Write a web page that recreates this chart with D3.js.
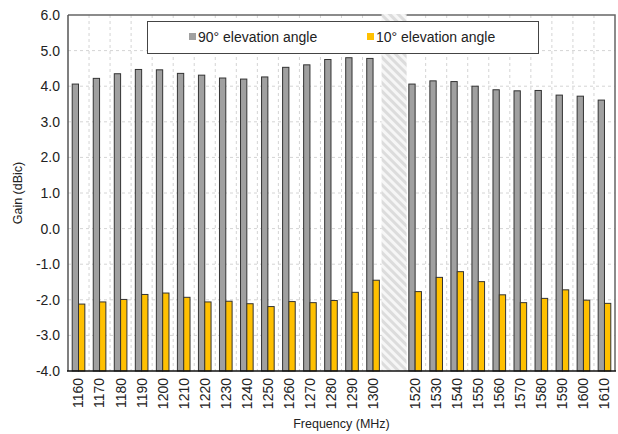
<!DOCTYPE html>
<html>
<head>
<meta charset="utf-8">
<style>
  body { margin: 0; background: #fff; }
  text { font-family: "Liberation Sans", Arial, sans-serif; fill: #222; }
</style>
</head>
<body>
<script src="https://d3js.org/d3.v7.min.js"></script>
<script>
// Frequencies (MHz); "gap" is the hatched empty slot between the two bands
var freqs = ["1160","1170","1180","1190","1200","1210","1220","1230","1240","1250",
             "1260","1270","1280","1290","1300","gap",
             "1520","1530","1540","1550","1560","1570","1580","1590","1600","1610"];

// Gain (dBic) at 90° elevation
var gain90 = [4.06,4.22,4.35,4.47,4.46,4.36,4.31,4.23,4.20,4.26,
              4.53,4.60,4.75,4.80,4.78,null,
              4.06,4.15,4.13,4.00,3.90,3.87,3.88,3.75,3.72,3.61];

// Gain (dBic) at 10° elevation
var gain10 = [-2.12,-2.06,-1.99,-1.85,-1.81,-1.93,-2.06,-2.04,-2.11,-2.19,
              -2.05,-2.08,-2.02,-1.79,-1.45,null,
              -1.77,-1.37,-1.21,-1.49,-1.86,-2.08,-1.96,-1.72,-2.01,-2.10];

var yTicks = [-4,-3,-2,-1,0,1,2,3,4,5,6];
var seriesNames = ["90° elevation angle", "10° elevation angle"];
var seriesColors = ["#a0a0a0", "#ffc000"];

var W = 618, H = 434;
var plotL = 68, plotR = 615, plotT = 15, plotB = 371;

var svg = d3.select("body").append("svg")
    .attr("width", W)
    .attr("height", H);

var defs = svg.append("defs");
var pat = defs.append("pattern")
    .attr("id", "hatch")
    .attr("patternUnits", "userSpaceOnUse")
    .attr("width", 6)
    .attr("height", 6)
    .attr("patternTransform", "rotate(-45)");
pat.append("rect").attr("width", 6).attr("height", 6).attr("fill", "#f6f6f6");
pat.append("rect").attr("width", 3).attr("height", 6).attr("fill", "#dcdcdc");

var x = d3.scaleBand().domain(freqs).range([plotL, plotR]).paddingInner(0).paddingOuter(0);
var y = d3.scaleLinear().domain([-4, 6]).range([plotB, plotT]);

var bw = x.bandwidth() * 0.3;

// gridlines
svg.append("g").selectAll("line")
  .data(yTicks.slice(1, -1))
  .enter().append("line")
    .attr("x1", plotL).attr("x2", plotR)
    .attr("y1", function(d){ return y(d); })
    .attr("y2", function(d){ return y(d); })
    .attr("stroke", "#d4d4d4")
    .attr("stroke-dasharray", "3,3");

svg.append("g").selectAll("line")
  .data(freqs.slice(1))
  .enter().append("line")
    .attr("x1", function(d){ return x(d); })
    .attr("x2", function(d){ return x(d); })
    .attr("y1", plotT).attr("y2", plotB)
    .attr("stroke", "#d4d4d4")
    .attr("stroke-dasharray", "3,3");

// frame top / right
svg.append("path")
    .attr("d", "M" + plotL + "," + plotT + "H" + plotR + "V" + plotB)
    .attr("fill", "none")
    .attr("stroke", "#666")
    .attr("stroke-width", 1.5);

// hatched gap
svg.append("rect")
    .attr("x", x("gap") - 2)
    .attr("y", plotT - 1)
    .attr("width", x.bandwidth() + 4)
    .attr("height", plotB - plotT + 1)
    .attr("fill", "url(#hatch)");

// bars
var series = [gain90, gain10];
series.forEach(function(vals, s) {
  svg.append("g").selectAll("rect")
    .data(freqs.map(function(f, i){ return {f: f, v: vals[i]}; }).filter(function(d){ return d.v !== null; }))
    .enter().append("rect")
      .attr("x", function(d){ return x(d.f) + x.bandwidth() / 2 - bw + s * bw; })
      .attr("y", function(d){ return y(d.v); })
      .attr("width", bw)
      .attr("height", function(d){ return y(-4) - y(d.v); })
      .attr("fill", seriesColors[s])
      .attr("stroke", "#333")
      .attr("stroke-width", 1);
});

// left axis
svg.append("line")
    .attr("x1", plotL).attr("x2", plotL).attr("y1", plotT).attr("y2", plotB)
    .attr("stroke", "#555").attr("stroke-width", 1.5);
svg.append("g").selectAll("text")
  .data(yTicks)
  .enter().append("text")
    .attr("x", plotL - 8)
    .attr("y", function(d){ return y(d); })
    .attr("dy", "0.35em")
    .attr("text-anchor", "end")
    .attr("font-size", 14)
    .text(function(d){ return d3.format(".1f")(d).replace("−", "-"); });

// bottom axis
svg.append("line")
    .attr("x1", plotL - 1).attr("x2", plotR + 1).attr("y1", plotB).attr("y2", plotB)
    .attr("stroke", "#111").attr("stroke-width", 1.5);
svg.append("g").selectAll("text")
  .data(freqs.filter(function(f){ return f !== "gap"; }))
  .enter().append("text")
    .attr("transform", function(d){
      return "translate(" + (x(d) + x.bandwidth() / 2) + "," + (plotB + 7) + ") rotate(-90)";
    })
    .attr("dy", "0.35em")
    .attr("text-anchor", "end")
    .attr("font-size", 14)
    .text(function(d){ return d; });

// axis titles
svg.append("text")
    .attr("transform", "translate(22," + ((plotT + plotB) / 2) + ") rotate(-90)")
    .attr("text-anchor", "middle")
    .attr("font-size", 12.5)
    .text("Gain (dBic)");
svg.append("text")
    .attr("x", (plotL + plotR) / 2)
    .attr("y", 428)
    .attr("text-anchor", "middle")
    .attr("font-size", 12.5)
    .text("Frequency (MHz)");

// legend
var lg = svg.append("g");
lg.append("rect")
    .attr("x", 147.5).attr("y", 21.5).attr("width", 391).attr("height", 32)
    .attr("fill", "#fff").attr("stroke", "#444").attr("stroke-width", 1);
var legendX = [189, 367];
seriesNames.forEach(function(n, i) {
  lg.append("rect")
    .attr("x", legendX[i]).attr("y", 33).attr("width", 7).attr("height", 7)
    .attr("fill", seriesColors[i]);
  lg.append("text")
    .attr("x", legendX[i] + 9).attr("y", 42)
    .attr("font-size", 14)
    .text(n);
});
</script>
</body>
</html>
